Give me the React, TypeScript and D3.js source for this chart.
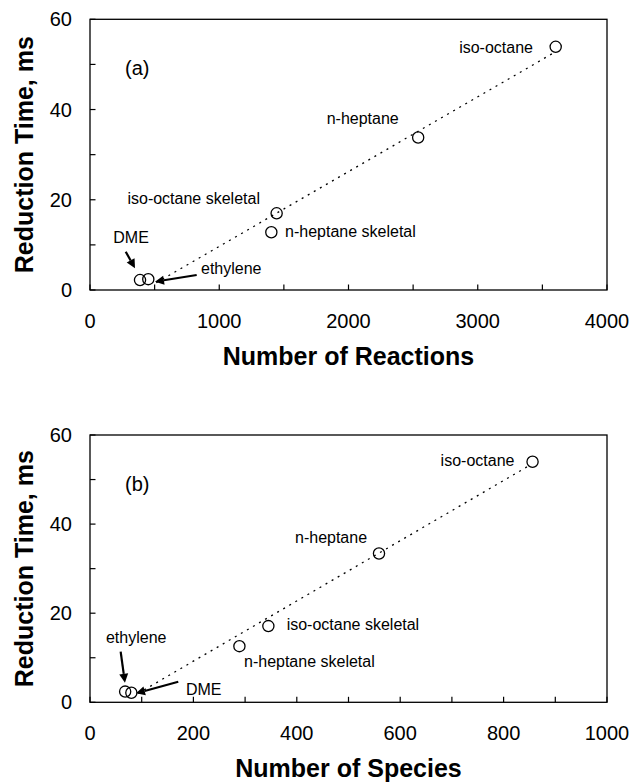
import React from "react";
import * as d3 from "d3";

// ---------- data ----------
const fuels = ["DME", "ethylene", "n-heptane skeletal", "iso-octane skeletal", "n-heptane", "iso-octane"];
const reactions = [387, 451, 1403, 1444, 2539, 3603];
const species = [80, 68, 289, 345, 559, 856];
const timeVsReactions = [2.2, 2.4, 12.8, 17.0, 33.8, 53.9];
const timeVsSpecies = [2.15, 2.4, 12.6, 17.1, 33.4, 54.0];

// dotted trend lines (end points, data units)
const trendReactionsX = [513, 3578];
const trendReactionsY = [1.6, 52.4];
const trendSpeciesX = [93, 852];
const trendSpeciesY = [2.0, 53.3];

const xTicksReactions = [0, 500, 1000, 1500, 2000, 2500, 3000, 3500, 4000];
const xLabelsReactions = [0, 1000, 2000, 3000, 4000];
const xTicksSpecies = [0, 100, 200, 300, 400, 500, 600, 700, 800, 900, 1000];
const xLabelsSpecies = [0, 200, 400, 600, 800, 1000];
const yTicks = [0, 10, 20, 30, 40, 50, 60];
const yLabels = [0, 20, 40, 60];

// ---------- layout (pixel offsets of labels/arrows relative to their points) ----------
type Lab = { dx: number; dy: number; anchor: "start" | "end"; arrow?: [number, number, number, number] };
const layoutA: Record<string, Lab> = {
  "iso-octane": { dx: -22.7, dy: 6.1, anchor: "end" },
  "n-heptane": { dx: -91.5, dy: -13.6, anchor: "start" },
  "iso-octane skeletal": { dx: -149.2, dy: -9.3, anchor: "start" },
  "n-heptane skeletal": { dx: 13.7, dy: 4.7, anchor: "start" },
  DME: { dx: -26.7, dy: -36.8, anchor: "start", arrow: [-14.3, -28.4, -5, -11.8] },
  ethylene: { dx: 52.7, dy: -4.9, anchor: "start", arrow: [48.4, -4.2, 6.7, 2.5] },
};
const layoutB: Record<string, Lab> = {
  "iso-octane": { dx: -18.1, dy: 4.3, anchor: "end" },
  "n-heptane": { dx: -84, dy: -10.8, anchor: "start" },
  "iso-octane skeletal": { dx: 18.3, dy: 3.9, anchor: "start" },
  "n-heptane skeletal": { dx: 4.6, dy: 20.5, anchor: "start" },
  ethylene: { dx: -19.2, dy: -48.3, anchor: "start", arrow: [-4.5, -39.9, -0.2, -8.9] },
  DME: { dx: 54.6, dy: 2.3, anchor: "start", arrow: [46.9, -11, 4.6, 0.6] },
};

const FONT = "'Liberation Sans', Arial, Helvetica, sans-serif";

function Arrow({ x1, y1, x2, y2 }: { x1: number; y1: number; x2: number; y2: number }) {
  const ang = Math.atan2(y2 - y1, x2 - x1);
  const L = 9, W = 4.5;
  const bx = x2 - L * Math.cos(ang);
  const by = y2 - L * Math.sin(ang);
  const px = -Math.sin(ang) * W, py = Math.cos(ang) * W;
  return (
    <g>
      <line x1={x1} y1={y1} x2={bx} y2={by} stroke="#000" strokeWidth={2.2} />
      <polygon points={`${x2},${y2} ${bx + px},${by + py} ${bx - px},${by - py}`} fill="#000" />
    </g>
  );
}

function Panel(props: {
  top: number; bottom: number; xMax: number; xs: number[]; ys: number[];
  ticks: number[]; labels: number[]; trendX: number[]; trendY: number[];
  tag: string; xTitle: string; layout: Record<string, Lab>;
}) {
  const { top, bottom, xMax, xs, ys, ticks, labels, trendX, trendY, tag, xTitle, layout } = props;
  const left = 90, right = 607;
  const x = d3.scaleLinear().domain([0, xMax]).range([left, right]);
  const y = d3.scaleLinear().domain([0, 60]).range([bottom, top]);
  const trend = d3.line<number>().x((_, i) => x(trendX[i])).y((d) => y(d))(trendY) || "";
  return (
    <g fontFamily={FONT}>
      <rect x={left} y={top} width={right - left} height={bottom - top} fill="none" stroke="#000" strokeWidth={1.3} />
      {ticks.map((t) => (
        <line key={"xt" + t} x1={x(t)} x2={x(t)} y1={bottom} y2={bottom - 5.5} stroke="#000" strokeWidth={1.2} />
      ))}
      {yTicks.map((t) => (
        <line key={"yt" + t} x1={left} x2={left + 5.5} y1={y(t)} y2={y(t)} stroke="#000" strokeWidth={1.2} />
      ))}
      {labels.map((t) => (
        <text key={"xl" + t} x={x(t)} y={bottom + 37.5} textAnchor="middle" fontSize={20}>{t}</text>
      ))}
      {yLabels.map((t) => (
        <text key={"yl" + t} x={72} y={y(t) + 7} textAnchor="end" fontSize={20}>{t}</text>
      ))}
      <text x={(left + right) / 2} y={bottom + 75} textAnchor="middle" fontSize={25} fontWeight="bold">{xTitle}</text>
      <text transform={`translate(33,${(top + bottom) / 2}) rotate(-90)`} textAnchor="middle" fontSize={25} fontWeight="bold">
        Reduction Time, ms
      </text>
      <text x={125} y={(top + 56) } fontSize={20}>{tag}</text>
      <path d={trend} fill="none" stroke="#000" strokeWidth={1.3} strokeDasharray="2,5" />
      {fuels.map((f, i) => {
        const px = x(xs[i]), py = y(ys[i]);
        const l = layout[f];
        return (
          <g key={f}>
            <circle cx={px} cy={py} r={5.6} fill="#fff" fillOpacity={0} stroke="#000" strokeWidth={1.3} />
            <text x={px + l.dx} y={py + l.dy} textAnchor={l.anchor} fontSize={16}>{f}</text>
            {l.arrow && <Arrow x1={px + l.arrow[0]} y1={py + l.arrow[1]} x2={px + l.arrow[2]} y2={py + l.arrow[3]} />}
          </g>
        );
      })}
    </g>
  );
}

export default function App() {
  return (
    <svg width={633} height={783} style={{ position: "absolute", left: 0, top: 0, background: "#fff" }}>
      <rect width={633} height={783} fill="#fff" />
      <Panel top={19.3} bottom={290} xMax={4000} xs={reactions} ys={timeVsReactions}
        ticks={xTicksReactions} labels={xLabelsReactions} trendX={trendReactionsX} trendY={trendReactionsY}
        tag="(a)" xTitle="Number of Reactions" layout={layoutA} />
      <Panel top={435} bottom={702.3} xMax={1000} xs={species} ys={timeVsSpecies}
        ticks={xTicksSpecies} labels={xLabelsSpecies} trendX={trendSpeciesX} trendY={trendSpeciesY}
        tag="(b)" xTitle="Number of Species" layout={layoutB} />
    </svg>
  );
}
